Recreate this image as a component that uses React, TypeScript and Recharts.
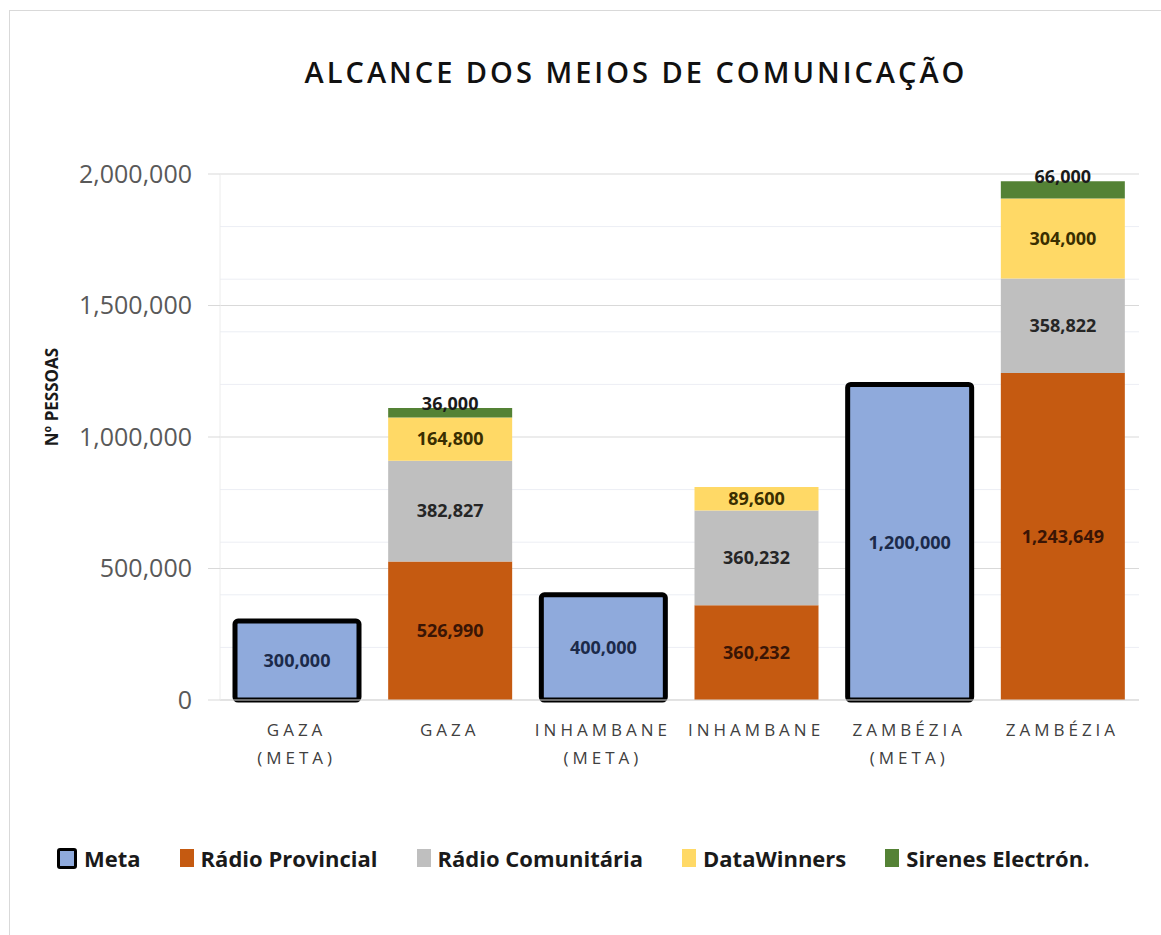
import React from 'react';
import { BarChart, Bar, XAxis, YAxis, CartesianGrid, LabelList } from 'recharts';

const categories = ['GAZA\n(META)', 'GAZA', 'INHAMBANE\n(META)', 'INHAMBANE', 'ZAMBÉZIA\n(META)', 'ZAMBÉZIA'];
const meta = [300000, null, 400000, null, 1200000, null];
const radioProvincial = [null, 526990, null, 360232, null, 1243649];
const radioComunitaria = [null, 382827, null, 360232, null, 358822];
const dataWinners = [null, 164800, null, 89600, null, 304000];
const sirenes = [null, 36000, null, null, null, 66000];
const yTicks = [0, 500000, 1000000, 1500000, 2000000];
const minorGrid = [200000, 400000, 600000, 800000, 1200000, 1400000, 1600000, 1800000];

const data = categories.map((name, i) => ({
  name,
  meta: meta[i],
  provincial: radioProvincial[i],
  comunitaria: radioComunitaria[i],
  dataWinners: dataWinners[i],
  sirenes: sirenes[i],
}));

const legendItems = [
  { label: 'Meta', color: '#8faadc', border: true },
  { label: 'Rádio Provincial', color: '#c55a11' },
  { label: 'Rádio Comunitária', color: '#bfbfbf' },
  { label: 'DataWinners', color: '#ffd966' },
  { label: 'Sirenes Electrón.', color: '#548235' },
];

const fmt = (v: any) => (v == null ? '' : Number(v).toLocaleString('en-US'));
const labelStyle = { fontSize: 18, fontWeight: 700, fontFamily: 'Open Sans' };

const XTick = ({ x, y, payload }: any) => {
  const lines = String(payload.value).split('\n');
  return (
    <g>
      {lines.map((l, i) => (
        <text key={i} x={x} y={y + 36 + i * 28} textAnchor="middle" fontSize={17} letterSpacing={4} fill="#404040" fontFamily="Open Sans">
          {l}
        </text>
      ))}
    </g>
  );
};

const YLabel = ({ viewBox }: any) => {
  const x = viewBox.x + 38;
  const y = viewBox.y + viewBox.height / 2 - 40;
  return (
    <text x={x} y={y} transform={`rotate(-90, ${x}, ${y})`} textAnchor="middle" fontSize={17} fontWeight={700} fill="#1a1a1a" fontFamily="Open Sans">
      Nº PESSOAS
    </text>
  );
};

export default function App() {
  return (
    <div style={{ position: 'relative', width: 1161, height: 935, fontFamily: 'Open Sans', background: '#fff' }}>
      <style>{`body{margin:0}`}</style>
      <div style={{ position: 'absolute', left: 9, top: 10, width: 1160, height: 930, border: '1px solid #d9d9d9', boxSizing: 'border-box' }} />
      <div style={{ position: 'absolute', top: 52, left: 0, width: 1272, textAlign: 'center', fontSize: 29, fontWeight: 600, letterSpacing: 3, color: '#111' }}>
        ALCANCE DOS MEIOS DE COMUNICAÇÃO
      </div>
      <BarChart width={1161} height={935} data={data} margin={{ top: 174, right: 22, bottom: 205, left: 20 }} barSize={124}>
        <CartesianGrid vertical={false} horizontalValues={minorGrid} stroke="#eceef4" />
        <CartesianGrid vertical={false} horizontalValues={yTicks} stroke="#d9d9d9" />
        <XAxis dataKey="name" height={30} tick={<XTick />} tickLine={false} tickSize={0} tickMargin={0} axisLine={{ stroke: '#d9d9d9' }} interval={0} />
        <YAxis
          width={200}
          domain={[0, 2000000]}
          ticks={yTicks}
          tickFormatter={fmt}
          tick={{ fontSize: 25, fill: '#595959', fontFamily: 'Open Sans' }}
          tickLine={{ stroke: '#d9d9d9' }}
          tickSize={12}
          tickMargin={16}
          axisLine={{ stroke: '#ececec' }}
          label={<YLabel />}
        />
        <Bar dataKey="meta" stackId="a" fill="#8faadc" stroke="#000" strokeWidth={5} radius={3} isAnimationActive={false}>
          <LabelList dataKey="meta" position="center" formatter={fmt} style={{ ...labelStyle, fill: '#1c2a4a' }} />
        </Bar>
        <Bar dataKey="provincial" stackId="a" fill="#c55a11" isAnimationActive={false}>
          <LabelList dataKey="provincial" position="center" formatter={fmt} style={{ ...labelStyle, fill: '#3a1505' }} />
        </Bar>
        <Bar dataKey="comunitaria" stackId="a" fill="#bfbfbf" isAnimationActive={false}>
          <LabelList dataKey="comunitaria" position="center" formatter={fmt} style={{ ...labelStyle, fill: '#262626' }} />
        </Bar>
        <Bar dataKey="dataWinners" stackId="a" fill="#ffd966" isAnimationActive={false}>
          <LabelList dataKey="dataWinners" position="center" formatter={fmt} style={{ ...labelStyle, fill: '#3a2e00' }} />
        </Bar>
        <Bar dataKey="sirenes" stackId="a" fill="#548235" isAnimationActive={false}>
          <LabelList dataKey="sirenes" position="top" offset={-2} formatter={fmt} style={{ ...labelStyle, fill: '#1a1a1a' }} />
        </Bar>
      </BarChart>
      <div style={{ position: 'absolute', top: 843, left: 57, display: 'flex', alignItems: 'center', gap: 39, fontSize: 22, fontWeight: 700, color: '#1a1a1a' }}>
        {legendItems.map((it) => (
          <div key={it.label} style={{ display: 'flex', alignItems: 'center', gap: 7 }}>
            <span
              style={{
                display: 'inline-block',
                width: it.border ? 14 : 14,
                height: it.border ? 15 : 18,
                background: it.color,
                border: it.border ? '3px solid #000' : 'none',
                borderRadius: it.border ? 3 : 0,
              }}
            />
            <span>{it.label}</span>
          </div>
        ))}
      </div>
    </div>
  );
}
